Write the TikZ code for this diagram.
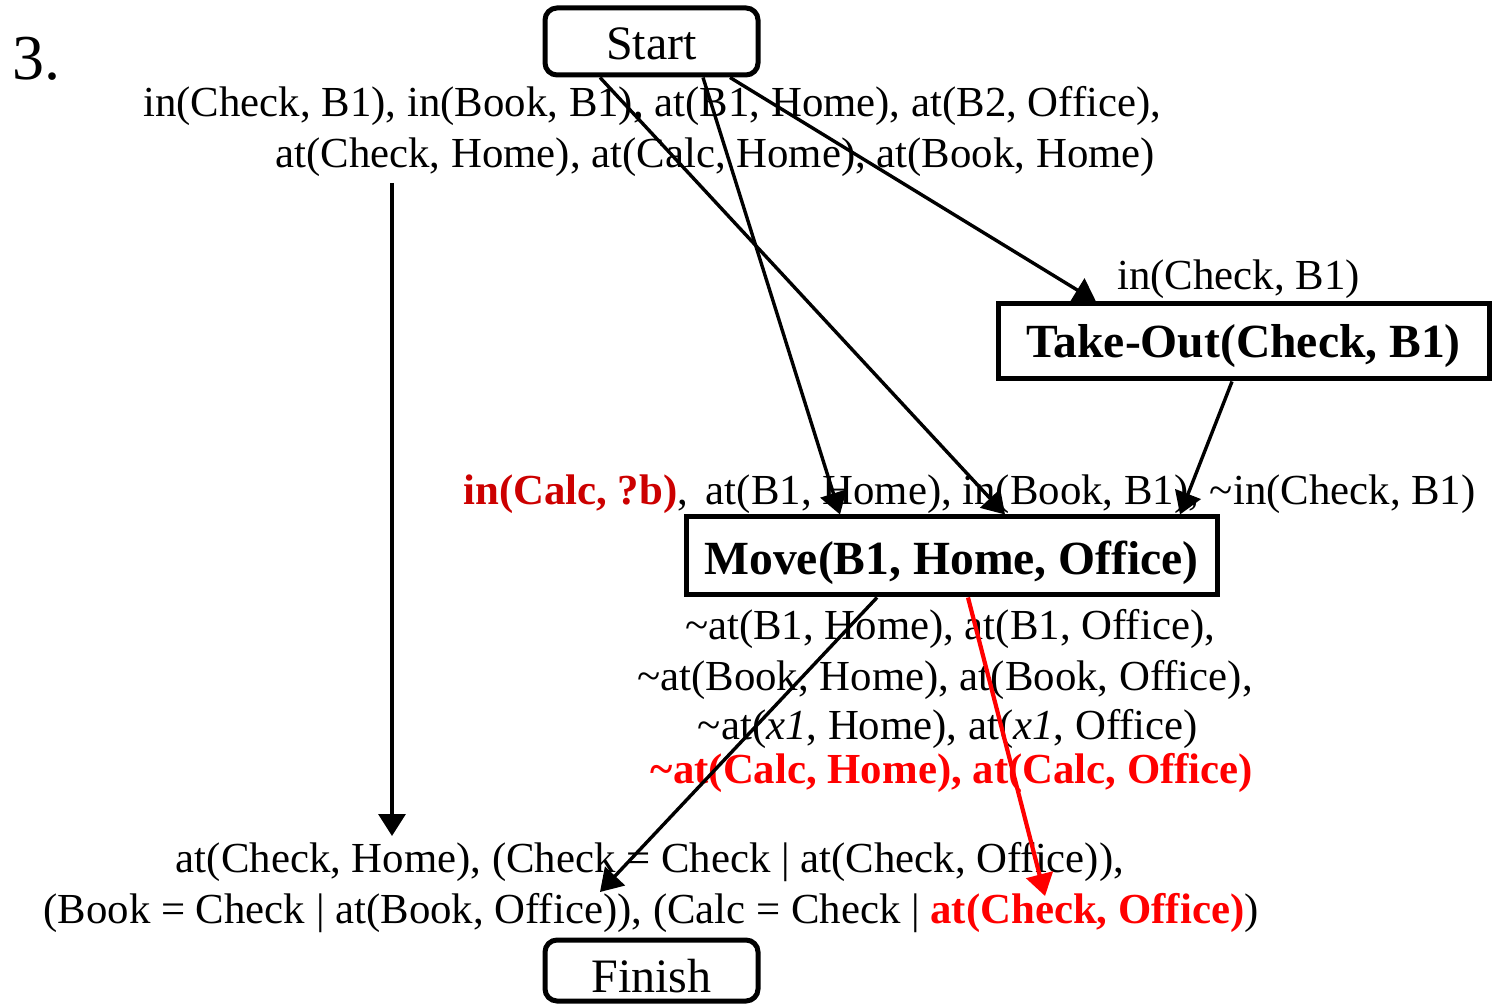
\documentclass[tikz,border=0pt]{standalone}
\usepackage{fontspec}
\setmainfont{Liberation Serif}
\usetikzlibrary{arrows.meta}
\definecolor{darkred}{RGB}{204,0,0}
\definecolor{brightred}{RGB}{255,0,0}
\newcommand\tl{\textasciitilde}
\begin{document}
\begin{tikzpicture}[x=0.5pt,y=-0.5pt,
  txt/.style={inner sep=0pt, anchor=base west, font=\fontsize{21.4}{25}\selectfont},
  ctxt/.style={inner sep=0pt, anchor=base, font=\fontsize{21.4}{25}\selectfont},
  stepbox/.style={draw, line width=2.5pt, inner sep=0pt, font=\bfseries\fontsize{23.8}{28}\selectfont},
  endbox/.style={draw, line width=2.5pt, rounded corners=6pt, inner sep=0pt,
    minimum width=106.5pt, font=\fontsize{24}{28}\selectfont},
  conn/.style={line width=1.7pt, -{Triangle[length=11pt,width=13.5pt]}},
  redconn/.style={conn, line width=2.1pt, draw=brightred, -{Triangle[length=11pt,width=13.5pt,fill=brightred]}}]
\useasboundingbox (0,0) rectangle (1493,1004);

% plan number
\node[inner sep=0pt, anchor=base west, font=\fontsize{32}{36}\selectfont] (num) at (12,80) {3.};

% start and finish steps
\node[endbox, minimum height=33.5pt, text height=19pt, text depth=0.5pt] (start) at (651.5,41.5) {Start};
\node[endbox, minimum height=30.5pt, text height=22pt, text depth=0.5pt] (finish) at (651.5,970.5) {Finish};

% initial state
\node[txt] (init1) at (143,117) {in(Check, B1), in(Book, B1), at(B1, Home), at(B2, Office),};
\node[txt] (init2) at (275,168) {at(Check, Home), at(Calc, Home), at(Book, Home)};

% Take-Out step
\node[txt] (topre) at (1117,290) {in(Check, B1)};
\node[stepbox, minimum width=245.5pt, minimum height=37.5pt, text height=17pt, text depth=0.5pt] (takeout) at (1243.5,341.5) {Take-Out(Check, B1)};

% Move step
\node[txt] (mvpre) at (463,505) {\textcolor{darkred}{\textbf{in(Calc, ?b)}}, \,at(B1, Home), in(Book, B1), \tl in(Check, B1)};
\node[stepbox, minimum width=265.5pt, minimum height=39pt, text height=19.5pt, text depth=0.5pt] (move) at (951.5,556) {Move(B1, Home, Office)};

% effects of Move
\node[ctxt] (eff1) at (950,640) {\tl at(B1, Home), at(B1, Office),};
\node[ctxt] (eff2) at (945,690) {\tl at(Book, Home), at(Book, Office),};
\node[ctxt] (eff3) at (948,740) {\tl at(\textit{x1}, Home), at(\textit{x1}, Office)};
\node[ctxt, text=brightred, font=\bfseries\fontsize{21.4}{25}\selectfont] (eff4) at (952,783) {\tl at(Calc, Home), at(Calc, Office)};

% goal conditions
\node[ctxt] (goal1) at (650,872) {at(Check, Home), (Check = Check | at(Check, Office)),};
\node[ctxt] (goal2) at (651,923) {(Book = Check | at(Book, Office)), (Calc = Check | \textcolor{brightred}{\textbf{at(Check, Office)}})};

% free ends of the causal links
\coordinate (chkfrom) at (392,183);
\coordinate (chkto) at (392,836);
\coordinate (booktip) at (600,892);
\coordinate (calctip) at (1045,896);

% causal links
\draw[conn] ([xshift=-25.75pt]start.south) -- ([xshift=26.75pt]move.north);
\draw[conn] ([xshift=25.75pt]start.south) -- ([xshift=-55.75pt]move.north);
\draw[conn] ([xshift=39.25pt]start.south) -- ([xshift=-73.75pt]takeout.north);
\draw[conn] ([xshift=-5.75pt]takeout.south) -- ([xshift=114.25pt]move.north);
\draw[conn] (chkfrom) -- (chkto);
\draw[conn] ([xshift=-37.25pt]move.south) -- (booktip);
\draw[redconn] ([xshift=8.25pt]move.south) -- (calctip);
\end{tikzpicture}
\end{document}
